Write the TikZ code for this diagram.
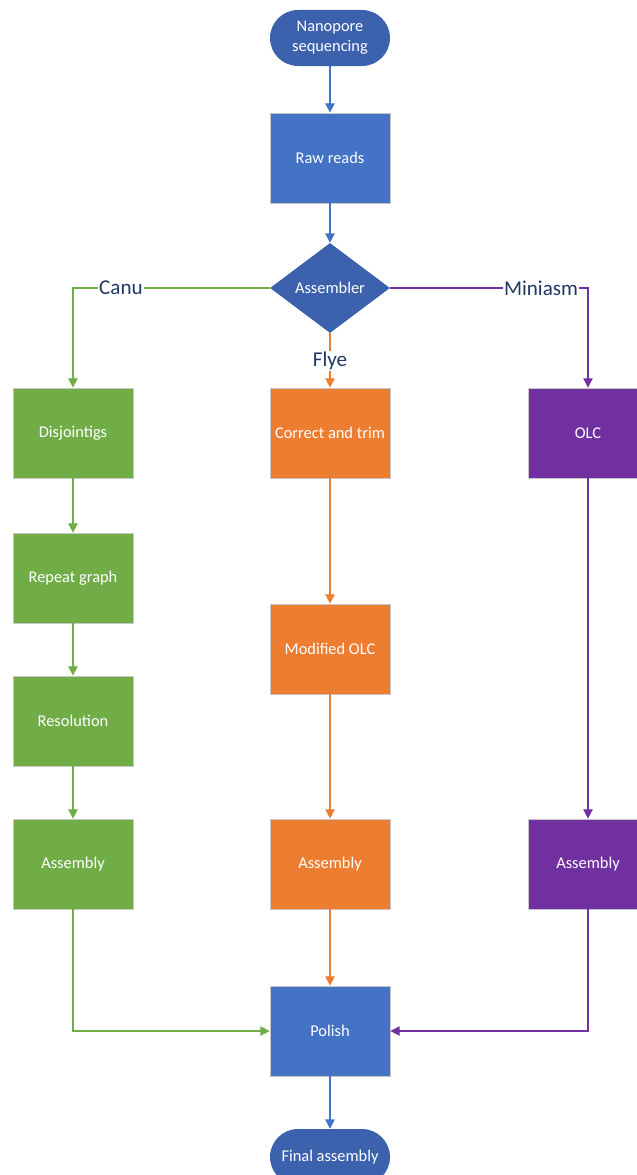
\documentclass[tikz,border=0pt]{standalone}
\usepackage{fontspec}
\setmainfont{Carlito}
\usetikzlibrary{arrows.meta,shapes.geometric}
\definecolor{flowblue}{HTML}{4472C4}
\definecolor{termblue}{HTML}{3D62AD}
\definecolor{canugreen}{HTML}{70AD47}
\definecolor{flyeorange}{HTML}{ED7D31}
\definecolor{minipurple}{HTML}{7030A0}
\definecolor{lblnavy}{HTML}{203864}
\begin{document}
\begin{tikzpicture}[x=0.03cm, y=-0.03cm,
  every node/.style={font=\fontsize{14}{17}\selectfont, text=white, align=center},
  stepbox/.style={rectangle, draw=gray!45, line width=0.6pt, minimum width=3.6cm, minimum height=2.7cm, inner sep=2pt},
  termbox/.style={rectangle, rounded corners=0.84cm, fill=termblue, minimum width=3.6cm, minimum height=1.68cm, inner sep=1pt},
  branch/.style={font=\fontsize{18}{21}\selectfont, text=lblnavy, fill=white, inner sep=1pt},
  flow/.style={line width=1.2pt, -{Triangle[length=8pt,width=8pt]}}]
\useasboundingbox (0,0) rectangle (636,1175);
\node[termbox] (start) at (330,38) {Nanopore\\sequencing};
\node[stepbox, fill=flowblue] (raw) at (330,158) {Raw reads};
\node[diamond, fill=termblue, aspect=1.333, inner sep=0pt, minimum width=3.6cm, minimum height=2.7cm] (asm) at (330,288) {Assembler};
\node[stepbox, fill=canugreen] (disj) at (73,433) {Disjointigs};
\node[stepbox, fill=canugreen] (rep) at (73,578) {Repeat graph};
\node[stepbox, fill=canugreen] (res) at (73,721) {Resolution};
\node[stepbox, fill=canugreen] (asmA) at (73,864) {Assembly};
\node[stepbox, fill=flyeorange] (cat) at (330,433) {Correct and trim};
\node[stepbox, fill=flyeorange] (molc) at (330,649) {Modified OLC};
\node[stepbox, fill=flyeorange] (asmB) at (330,864) {Assembly};
\node[stepbox, fill=minipurple] (olc) at (588,433) {OLC};
\node[stepbox, fill=minipurple] (asmC) at (588,864) {Assembly};
\node[stepbox, fill=flowblue] (pol) at (330,1031) {Polish};
\node[termbox] (final) at (330,1157) {Final assembly};
\draw[flow, flowblue] (start) -- (raw);
\draw[flow, flowblue] (raw) -- (asm);
\draw[flow, canugreen] (asm.west) -| (disj.north);
\draw[flow, minipurple] (asm.east) -| (olc.north);
\draw[flow, flyeorange] (asm.south) -- (cat.north);
\node[branch] (canu) at (121,288) {Canu};
\node[branch] (mini) at (541,288) {Miniasm};
\node[branch] (flye) at (330,361) {Flye};
\draw[flow, canugreen] (disj) -- (rep);
\draw[flow, canugreen] (rep) -- (res);
\draw[flow, canugreen] (res) -- (asmA);
\draw[flow, flyeorange] (cat) -- (molc);
\draw[flow, flyeorange] (molc) -- (asmB);
\draw[flow, minipurple] (olc) -- (asmC);
\draw[flow, canugreen] (asmA.south) |- (pol.west);
\draw[flow, flyeorange] (asmB) -- (pol);
\draw[flow, minipurple] (asmC.south) |- (pol.east);
\draw[flow, flowblue] (pol) -- (final);
\end{tikzpicture}
\end{document}
